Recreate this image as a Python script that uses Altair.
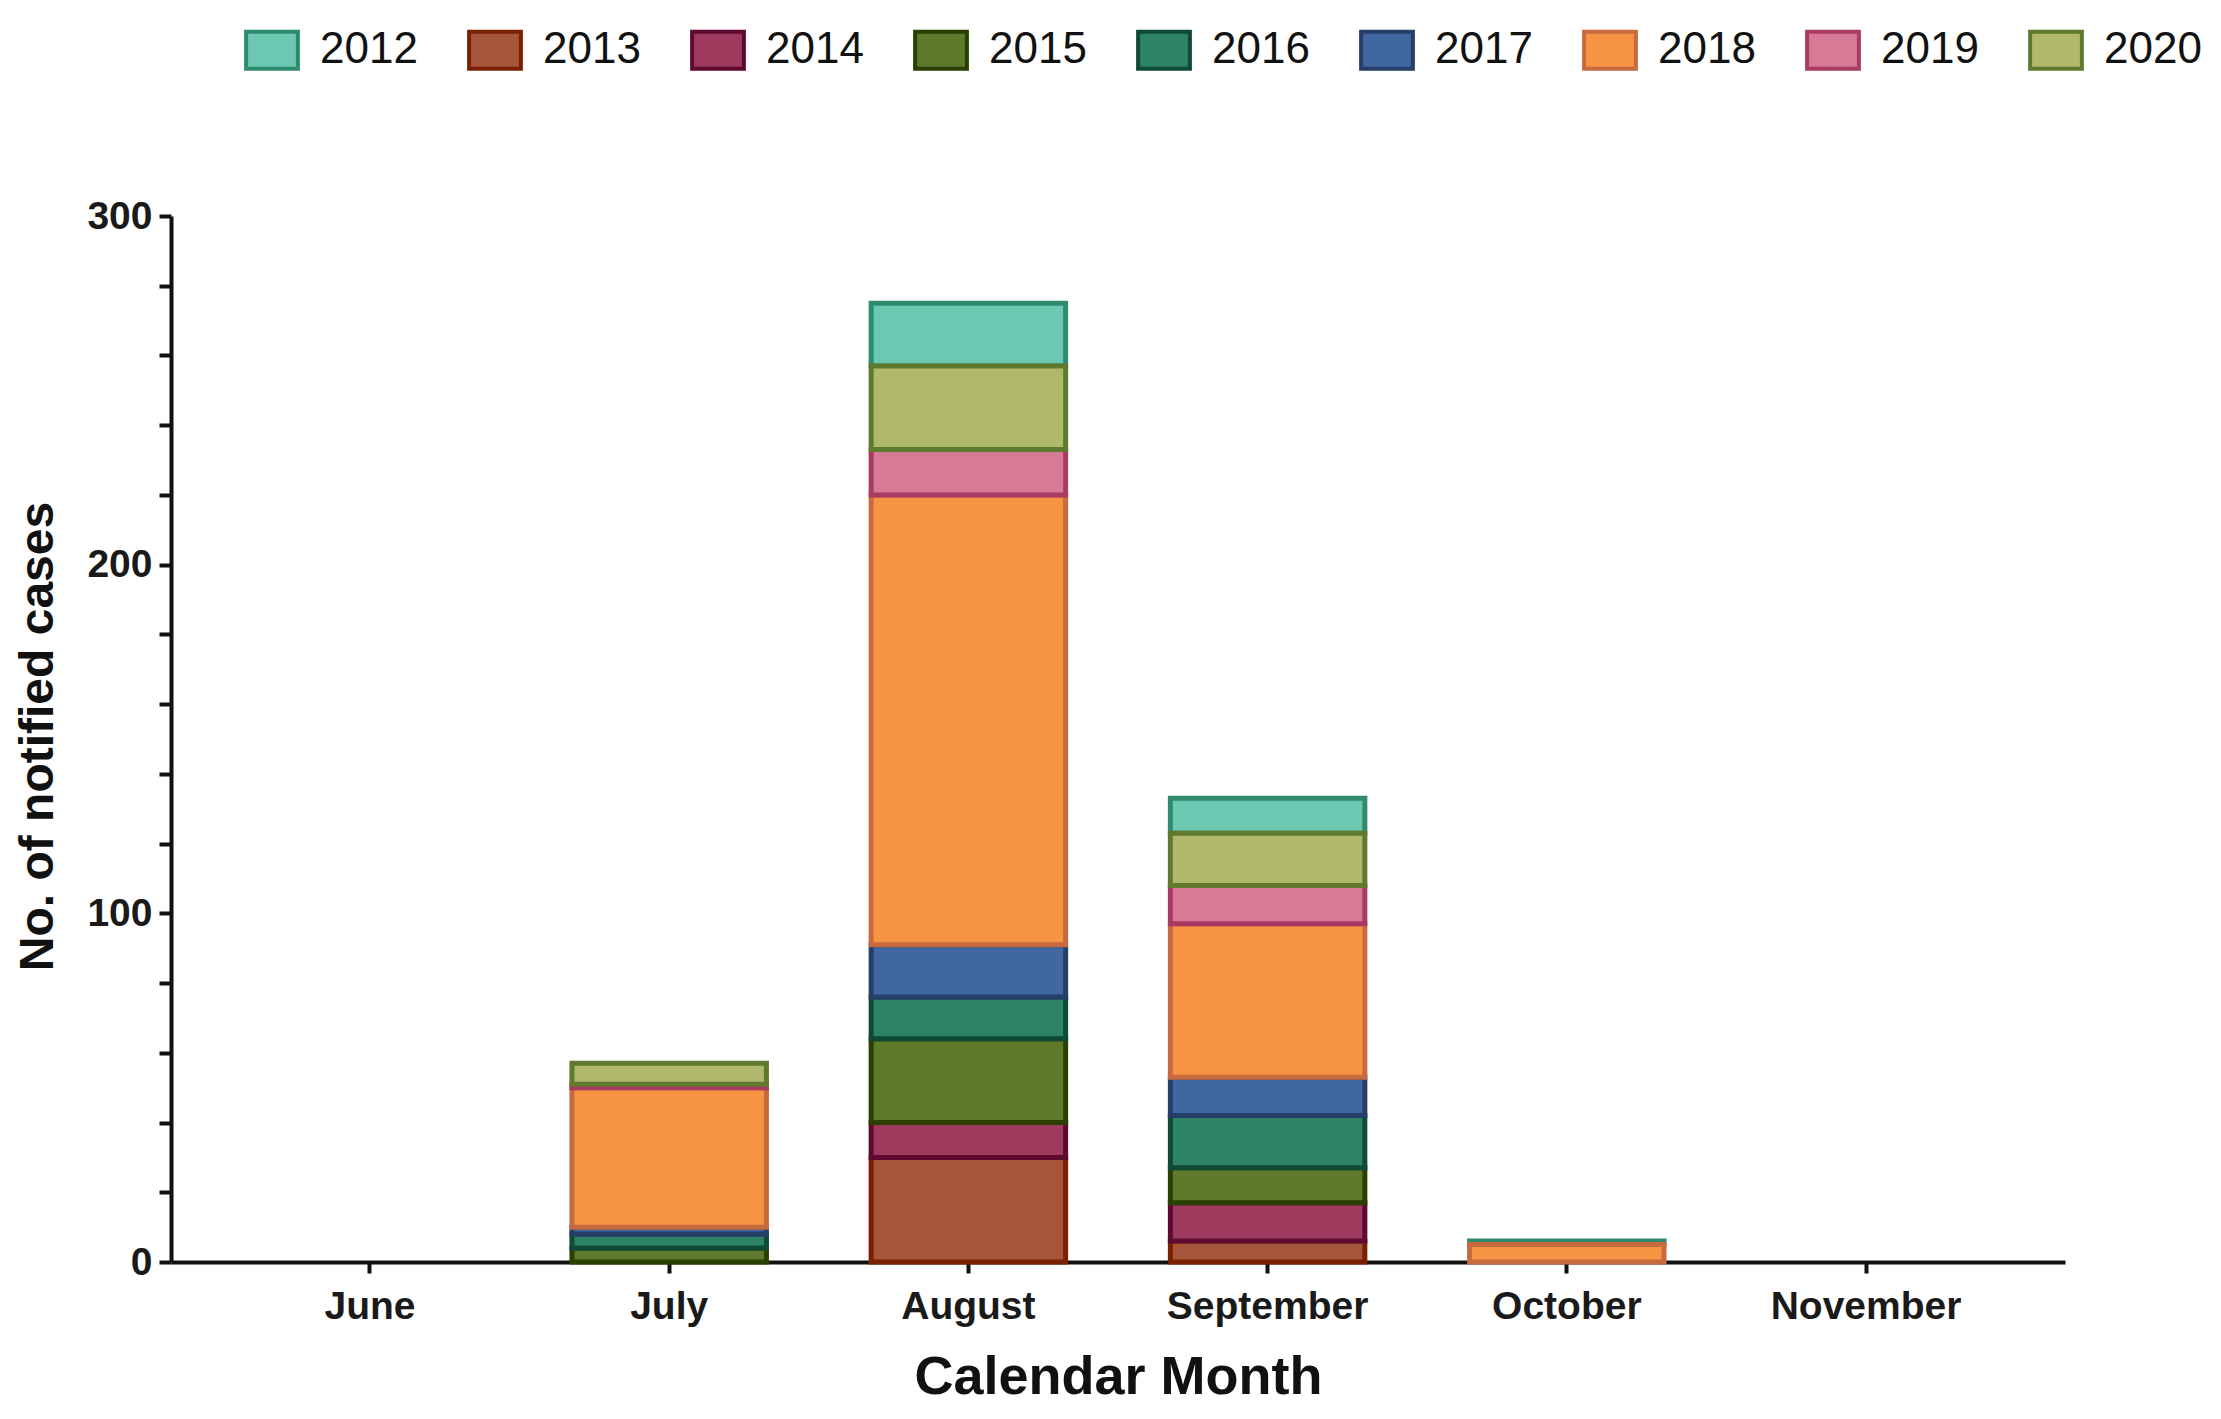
import altair as alt
import pandas as pd

months = ["June", "July", "August", "September", "October", "November"]
years = ["2012", "2013", "2014", "2015", "2016", "2017", "2018", "2019", "2020"]
cases_2012 = [0, 0, 18, 10, 1, 0]
cases_2013 = [0, 0, 30, 6, 0, 0]
cases_2014 = [0, 0, 10, 11, 0, 0]
cases_2015 = [0, 4, 24, 10, 0, 0]
cases_2016 = [0, 4, 12, 15, 0, 0]
cases_2017 = [0, 2, 15, 11, 0, 0]
cases_2018 = [0, 40, 129, 44, 5, 0]
cases_2019 = [0, 1, 13, 11, 0, 0]
cases_2020 = [0, 6, 24, 15, 0, 0]
# stacking order from the bottom (2012 sits on top)
stack_order = ["2013", "2014", "2015", "2016", "2017", "2018", "2019", "2020", "2012"]
y_tick_values = list(range(0, 301, 20))

fills = ["#6DC8B2", "#A5553A", "#9E3A5E", "#5E7A2C", "#2E8266",
         "#4167A0", "#F79443", "#D77A96", "#B0B86B"]
strokes = ["#2E8B6E", "#7A2000", "#5E0A30", "#2A4000", "#0F4A35",
           "#253F68", "#C86A40", "#A83A64", "#5F7A2E"]

series = {
    "2012": cases_2012, "2013": cases_2013, "2014": cases_2014,
    "2015": cases_2015, "2016": cases_2016, "2017": cases_2017,
    "2018": cases_2018, "2019": cases_2019, "2020": cases_2020,
}
rows = []
for yr in years:
    for m, v in zip(months, series[yr]):
        rows.append({"month": m, "year": yr, "cases": v,
                     "order": stack_order.index(yr)})
df = pd.DataFrame(rows)

FONT = "Liberation Sans, Arial, Helvetica, sans-serif"

chart = alt.Chart(df).transform_filter(
    alt.datum.cases > 0
).mark_bar(strokeWidth=5, strokeJoin="miter").encode(
    x=alt.X("month:N", sort=months,
            scale=alt.Scale(domain=months, paddingInner=0.35, paddingOuter=0.34),
            axis=alt.Axis(title="Calendar Month", labelAngle=0, labelLimit=0,
                          labelFont=FONT, labelFontWeight="bold", labelFontSize=39,
                          labelColor="#1a1a1a", labelPadding=14,
                          titleFont=FONT, titleFontWeight="bold", titleFontSize=54,
                          titleColor="#111111", titleY=115, titleBaseline="middle",
                          domainColor="#111111", domainWidth=4,
                          tickColor="#111111", tickWidth=4, tickSize=11)),
    y=alt.Y("sum(cases):Q", stack="zero",
            scale=alt.Scale(domain=[0, 300], nice=False),
            axis=alt.Axis(title="No. of notified cases", values=y_tick_values,
                          labelExpr="datum.value % 100 == 0 ? datum.label : ''",
                          labelFont=FONT, labelFontWeight="bold", labelFontSize=39,
                          labelColor="#1a1a1a", labelPadding=7,
                          titleFont=FONT, titleFontWeight="bold", titleFontSize=48,
                          titleColor="#111111", titleX=-133, titleY=520,
                          titleBaseline="middle", titleAngle=-90,
                          domainColor="#111111", domainWidth=4,
                          tickColor="#111111", tickWidth=4, tickSize=12,
                          grid=False)),
    fill=alt.Fill("year:N", scale=alt.Scale(domain=years, range=fills),
                  legend=alt.Legend(title=None, orient="none", direction="horizontal",
                                    legendX=79, legendY=-188,
                                    symbolType="M-1.4,-1L1.4,-1L1.4,1L-1.4,1Z",
                                    symbolSize=1369, symbolStrokeWidth=4,
                                    symbolOpacity=1,
                                    labelFont=FONT, labelFontSize=44,
                                    labelColor="#111111", labelOffset=26,
                                    columnPadding=43, columns=9)),
    stroke=alt.Stroke("year:N", scale=alt.Scale(domain=years, range=strokes)),
    order=alt.Order("order:Q"),
).properties(
    width=1894, height=1046,
    autosize=alt.AutoSizeParams(type="none"),
    padding={"left": 163, "top": 208, "right": 146, "bottom": 150},
    background="white",
).configure_view(strokeWidth=0, stroke="transparent")

chart.save("out.html", embed_options={"renderer": "svg", "actions": False})
